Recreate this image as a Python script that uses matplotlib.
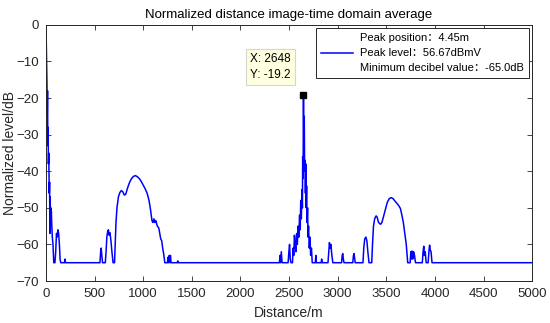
import matplotlib
matplotlib.use('Agg')
from matplotlib import pyplot as plt

plt.rcParams['font.family'] = ['Liberation Sans', 'Noto Sans CJK SC', 'DejaVu Sans']

# distance (m) and normalized level (dB)
distance = [0, 5, 10, 13, 16, 19, 22, 25, 28, 31, 34, 37, 40, 43, 46, 49, 52, 55, 60, 65, 72, 80,
            92, 100, 108, 115, 122, 130, 138, 145, 152, 190, 195, 200,
            555, 562, 568, 574, 582, 610, 618, 626, 634, 642, 650, 658, 668, 678, 690,
            705, 712, 720, 730, 745, 760, 775, 790, 805, 820, 840, 860, 880, 900, 920, 940,
            960, 980, 1000, 1020, 1040, 1060, 1075, 1090, 1100, 1110, 1120, 1130, 1145, 1160,
            1170, 1180, 1190, 1200, 1210, 1222, 1250, 1255, 1260, 1268, 1274, 1280, 1286,
            1350, 1355, 1360,
            2400, 2408, 2412, 2420, 2428, 2490, 2498, 2505, 2512, 2520, 2535, 2542, 2548, 2555,
            2562, 2570, 2578, 2585, 2592, 2600, 2608, 2614, 2620, 2626, 2632, 2637, 2640, 2644,
            2648, 2652, 2656, 2660, 2664, 2668, 2672, 2676, 2680, 2685, 2690, 2695, 2700, 2708,
            2715, 2722, 2730, 2738, 2770, 2775, 2780, 2830, 2835, 2840,
            2900, 2908, 2915, 2922, 2930, 2940, 2950, 3040, 3046, 3052, 3058, 3065,
            3155, 3162, 3168, 3175, 3180, 3260, 3268, 3278, 3290, 3300, 3310, 3322,
            3350, 3358, 3368, 3380, 3395, 3405, 3420, 3440, 3455, 3470, 3490, 3510, 3530, 3550,
            3570, 3590, 3610, 3630, 3645, 3660, 3675, 3690, 3705, 3720, 3745, 3752, 3758, 3765,
            3772, 3780, 3790, 3800, 3870, 3878, 3885, 3892, 3900, 3910, 3930, 3938, 3945, 3952,
            3960, 3970, 5000]
level = [0, -8, -16, -25, -18, -33, -28, -38, -35, -41, -46, -43, -57, -47, -52, -50, -54, -51, -55, -58, -60, -65,
         -65, -62, -57, -58, -56, -57, -60, -64, -65, -65, -64, -65,
         -65, -62, -61, -63, -65, -65, -62, -58, -56.5, -56, -57.5, -56.8, -59, -62, -65,
         -65, -60, -54, -50, -47, -45.8, -45.3, -45.6, -46.5, -46.3, -44.5, -43, -42, -41.4, -41.2, -41.5,
         -42, -42.8, -43.8, -44.8, -46, -48, -50.5, -53.5, -54, -53, -54, -53.5, -55, -55.5,
         -57, -58.5, -59, -61, -62.5, -65, -65, -63.5, -65, -63, -65, -63, -65,
         -65, -64.5, -65,
         -65, -63, -65, -62, -65, -65, -62, -60, -64, -65, -65, -61, -63, -57.5,
         -60, -62, -57, -60, -55, -58, -52, -56, -48, -53, -45, -50, -36, -42,
         -19.2, -34, -25, -40, -37, -46, -38, -50, -44, -54, -50, -58, -55, -61,
         -58, -63, -61, -65, -65, -63, -65, -65, -64, -65,
         -65, -62, -59.5, -61, -60, -63, -65, -65, -63, -62.5, -64, -65,
         -65, -63, -62.5, -64, -65, -65, -61, -58.5, -58, -59, -62, -65,
         -65, -60, -55, -53, -52.2, -52.5, -54, -54.5, -54, -52.5, -50.5, -48.5, -47.5, -47.2,
         -47.5, -48.2, -48.8, -49.5, -50.2, -52, -54, -57, -60, -65, -65, -62, -64, -61.8,
         -64, -62, -63, -65, -65, -62, -60.5, -63, -62, -65, -65, -62, -60.2, -61.5,
         -62, -65, -65]

peak_x = 2648
peak_y = -19.2
legend_text = 'Peak position：4.45m\nPeak level：56.67dBmV\nMinimum decibel value：-65.0dB'

dark = '#262626'
fig = plt.figure(figsize=(5.5, 3.23), dpi=100)
ax = fig.add_axes([0.0836, 0.130, 0.884, 0.793])

ax.plot(distance, level, color='#0000ff', lw=1.1, label=legend_text)
ax.plot([peak_x], [peak_y], 's', color='black', ms=5)

ax.text(2100, -11.5, 'X: %d\nY: %.1f' % (peak_x, peak_y), fontsize=8.5, va='center', ha='left',
        color='black', linespacing=1.4,
        bbox=dict(boxstyle='square,pad=0.35', facecolor='#ffffe1', edgecolor='#d8d8c8', lw=0.8))

ax.set_xlim(0, 5000)
ax.set_ylim(-70, 0)
ax.set_xticks(range(0, 5001, 500))
ax.set_yticks(range(-70, 1, 10))
ax.tick_params(direction='in', top=True, right=True, length=3.5, width=0.6,
               labelsize=9.5, colors=dark, pad=5)
for s in ax.spines.values():
    s.set_color(dark)
    s.set_linewidth(0.7)

ax.set_title('Normalized distance image-time domain average', fontsize=9.5, color='black', pad=5)
ax.set_xlabel('Distance/m', fontsize=10, color=dark, labelpad=4)
ax.set_ylabel('Normalized level/dB', fontsize=10, color=dark)
ax.yaxis.set_label_coords(-0.06, 0.5)

leg = ax.legend(loc='upper right', fontsize=8, fancybox=False, framealpha=1,
                edgecolor=dark, handlelength=2.9, handletextpad=0.6,
                borderaxespad=0.25, borderpad=0.5)
leg.get_frame().set_linewidth(0.7)
for t in leg.get_texts():
    t.set_linespacing(1.6)

fig.savefig('out.png', dpi=100)
